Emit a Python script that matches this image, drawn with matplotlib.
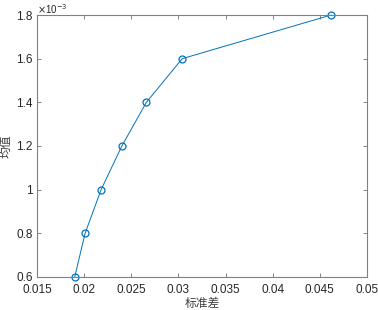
import matplotlib
matplotlib.use("Agg")
import matplotlib.pyplot as plt
import numpy as np

std_dev = [0.0190, 0.0201, 0.0218, 0.0240, 0.0266, 0.0304, 0.0462]
mean_vals = [0.6, 0.8, 1.0, 1.2, 1.4, 1.6, 1.8]  # x 1e-3
x_ticks = [0.015, 0.02, 0.025, 0.03, 0.035, 0.04, 0.045, 0.05]
x_tick_labels = ["0.015", "0.02", "0.025", "0.03", "0.035", "0.04", "0.045", "0.05"]
y_ticks = [0.6, 0.8, 1.0, 1.2, 1.4, 1.6, 1.8]
y_tick_labels = ["0.6", "0.8", "1", "1.2", "1.4", "1.6", "1.8"]

plt.rcParams['font.family'] = ['Liberation Sans', 'DejaVu Sans']

fig = plt.figure(figsize=(3.78, 3.10), dpi=100)
ax = fig.add_axes([0.0979, 0.1065, 0.8730, 0.8451])
blue = '#0072BD'
ax.plot(std_dev, mean_vals, color=blue, lw=0.7, marker='o', markersize=5,
        markerfacecolor='none', markeredgecolor=blue, markeredgewidth=0.9, clip_on=False)
ax.set_xlim(0.015, 0.05)
ax.set_ylim(0.6, 1.8)
ax.set_xticks(x_ticks)
ax.set_xticklabels(x_tick_labels)
ax.set_yticks(y_ticks)
ax.set_yticklabels(y_tick_labels)
ax.tick_params(direction='in', length=3, width=0.6, color='#707070', labelcolor='#262626',
               labelsize=8.5, top=True, right=True)
ax.tick_params(axis='x', pad=5)
ax.tick_params(axis='y', pad=3)
for s in ax.spines.values():
    s.set_color('#808080')
    s.set_linewidth(0.8)
ax.set_xlabel('标准差', fontsize=8.5, family=['Noto Sans CJK SC'], color='#404040', labelpad=1)
ax.set_ylabel('均值', fontsize=8.5, family=['Noto Sans CJK SC'], color='#404040', labelpad=3)
ax.text(0.0, 0.998, r'$\times$10$^{-3}$', transform=ax.transAxes, fontsize=7,
        color='#262626', ha='left', va='bottom')
fig.savefig('out.png', dpi=100)
